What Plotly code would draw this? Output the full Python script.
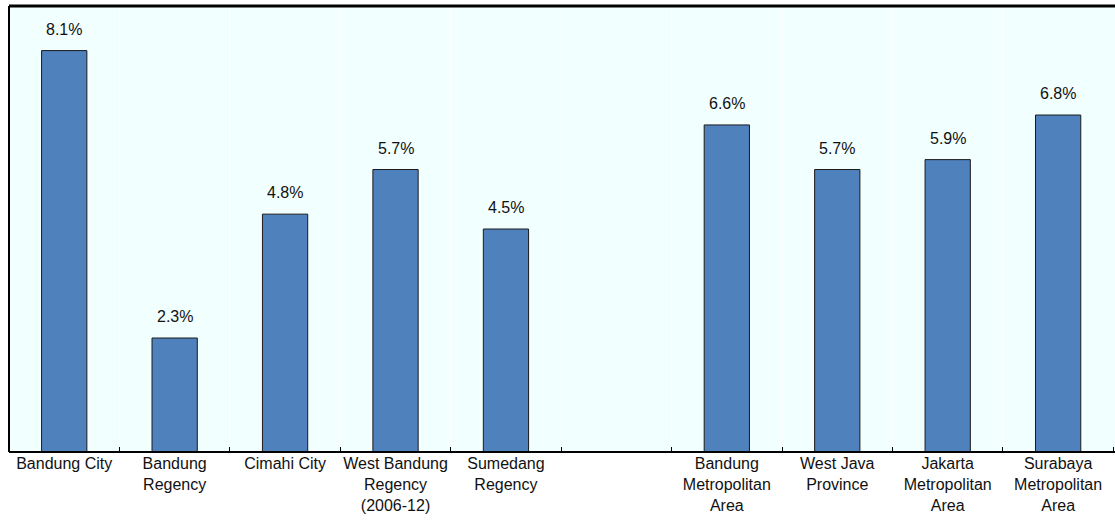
import plotly.graph_objects as go

categories = ["Bandung City", "Bandung<br>Regency", "Cimahi City", "West Bandung<br>Regency<br>(2006-12)",
              "Sumedang<br>Regency", " ", "Bandung<br>Metropolitan<br>Area", "West Java<br>Province",
              "Jakarta<br>Metropolitan<br>Area", "Surabaya<br>Metropolitan<br>Area"]
values = [8.1, 2.3, 4.8, 5.7, 4.5, None, 6.6, 5.7, 5.9, 6.8]
labels = ["8.1%", "2.3%", "4.8%", "5.7%", "4.5%", "", "6.6%", "5.7%", "5.9%", "6.8%"]

FONT = "Liberation Sans, Arial"

fig = go.Figure()
fig.add_trace(go.Bar(
    x=categories, y=values, width=0.41,
    marker=dict(color="#4F81BD", line=dict(color="#1a1a1a", width=1)),
    hoverinfo="skip",
))
for c, v, t in zip(categories, values, labels):
    if v is None:
        continue
    fig.add_annotation(x=c, y=v, text=t, showarrow=False, yanchor="bottom", yshift=11,
                       font=dict(family=FONT, size=16, color="#111"))

# borders of plot area (top, left, bottom)
fig.add_shape(type="line", xref="paper", yref="paper", x0=0, x1=1, y0=1, y1=1,
              line=dict(color="black", width=3))
fig.add_shape(type="line", xref="paper", yref="paper", x0=0, x1=0, y0=0, y1=1,
              line=dict(color="black", width=2))
fig.add_shape(type="line", xref="paper", yref="paper", x0=0, x1=1, y0=0, y1=0,
              line=dict(color="black", width=2))

fig.update_layout(
    width=1115, height=525,
    margin=dict(l=9, r=0, t=6, b=73, autoexpand=False),
    paper_bgcolor="white", plot_bgcolor="#F2FFFF",
    showlegend=False,
    font=dict(family=FONT, size=16, color="#111"),
)
fig.update_xaxes(
    type="category", range=[-0.5, 9.515], tickson="boundaries", ticks="inside", ticklen=5,
    tickcolor="black", tickwidth=1, tickangle=0, automargin=False,
    showline=False, showgrid=False, zeroline=False,
    tickfont=dict(family=FONT, size=16, color="#111"),
    fixedrange=True,
)
fig.update_yaxes(
    range=[0, 9], showticklabels=False, showgrid=False, zeroline=False,
    showline=False, ticks="", automargin=False,
)
for i in range(len(categories) - 1):
    fig.add_shape(type="line", xref="x", yref="paper", x0=i + 0.5, x1=i + 0.5, y0=0, y1=1,
                  line=dict(color="white", width=1), layer="below")
fig.write_html("out.html")
